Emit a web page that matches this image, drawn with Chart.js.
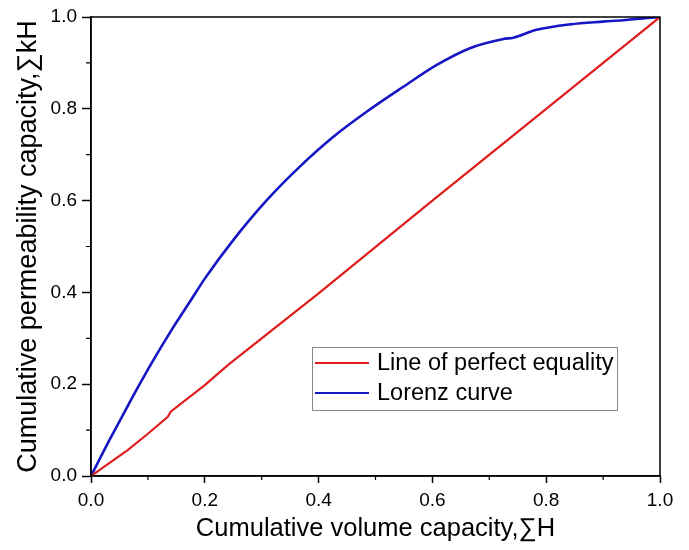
<!DOCTYPE html>
<html>
<head>
<meta charset="utf-8">
<script src="https://cdn.jsdelivr.net/npm/chart.js@4.4.0/dist/chart.umd.min.js"></script>
<style>
    body { margin: 0; background: #fff; }
    #wrap { width: 689px; height: 550px; }
</style>
</head>
<body>
<div id="wrap"><canvas id="lorenz" width="689" height="550"></canvas></div>
<script>
// Lorenz curve (blue)
const lorenzX = [0, 0.028, 0.054, 0.077, 0.107, 0.139, 0.174, 0.2, 0.25, 0.309, 0.367, 0.426, 0.485, 0.549, 0.607, 0.666, 0.725, 0.742, 0.783, 0.842, 0.9, 0.935, 0.959, 1.0];
const lorenzY = [0, 0.068, 0.128, 0.181, 0.247, 0.313, 0.38, 0.43, 0.514, 0.601, 0.674, 0.739, 0.794, 0.848, 0.895, 0.932, 0.952, 0.955, 0.972, 0.984, 0.99, 0.993, 0.996, 1.0];

// Line of perfect equality (red)
const equalX = [0, 0.065, 0.1, 0.135, 0.14, 0.2, 0.241, 0.4, 0.6, 0.8, 1.0];
const equalY = [0, 0.057, 0.092, 0.129, 0.14, 0.198, 0.242, 0.398, 0.6, 0.8, 1.0];

const majorTicks = [0, 0.2, 0.4, 0.6, 0.8, 1.0];
const minorTicks = [0.1, 0.3, 0.5, 0.7, 0.9];

const seriesNames = ['Line of perfect equality', 'Lorenz curve'];
const seriesColors = ['#e01c1c', '#1616c4'];

const FONT = 'Liberation Sans, Arial, sans-serif';

const toPoints = (xs, ys) => xs.map((x, i) => ({ x: x, y: ys[i] }));

// cadre + petites graduations + légende
const framePlugin = {
    id: 'frame',
    afterDraw(chart) {
        const ctx = chart.ctx;
        const a = chart.chartArea;
        const sx = chart.scales.x, sy = chart.scales.y;
        ctx.save();
        ctx.strokeStyle = '#000';
        ctx.lineWidth = 1.5;
        ctx.strokeRect(a.left, a.top, a.right - a.left, a.bottom - a.top);

        // minor ticks
        ctx.lineWidth = 1.2;
        ctx.beginPath();
        minorTicks.forEach(v => {
            const px = sx.getPixelForValue(v);
            ctx.moveTo(px, a.bottom);
            ctx.lineTo(px, a.bottom + 4);
            const py = sy.getPixelForValue(v);
            ctx.moveTo(a.left, py);
            ctx.lineTo(a.left - 5, py);
        });
        ctx.stroke();

        // legend box
        const lx = 312.5, ly = 347.5, lw = 305, lh = 63;
        ctx.fillStyle = '#fff';
        ctx.fillRect(lx, ly, lw, lh);
        ctx.strokeStyle = '#8a8a8a';
        ctx.lineWidth = 1;
        ctx.strokeRect(lx, ly, lw, lh);
        ctx.font = '23.5px ' + FONT;
        ctx.textBaseline = 'middle';
        ctx.textAlign = 'left';
        chart.data.datasets.forEach((ds, i) => {
            const y = 363 + i * 30;
            ctx.strokeStyle = ds.borderColor;
            ctx.lineWidth = 2.2;
            ctx.beginPath();
            ctx.moveTo(315, y);
            ctx.lineTo(369, y);
            ctx.stroke();
            ctx.fillStyle = '#000';
            ctx.fillText(ds.label, 377, y + 1);
        });
        ctx.restore();
    }
};

new Chart(document.getElementById('lorenz'), {
    type: 'scatter',
    data: {
        datasets: [
            {
                label: seriesNames[0],
                data: toPoints(equalX, equalY),
                showLine: true,
                borderColor: seriesColors[0],
                borderWidth: 2.2,
                pointRadius: 0,
                tension: 0
            },
            {
                label: seriesNames[1],
                data: toPoints(lorenzX, lorenzY),
                showLine: true,
                borderColor: seriesColors[1],
                borderWidth: 2.6,
                pointRadius: 0,
                cubicInterpolationMode: 'monotone'
            }
        ]
    },
    options: {
        responsive: false,
        animation: false,
        layout: { padding: { left: 8, top: 17, right: 29, bottom: 2 } },
        plugins: {
            legend: { display: false },
            tooltip: { enabled: false }
        },
        scales: {
            x: {
                type: 'linear',
                min: 0,
                max: 1,
                afterBuildTicks: s => { s.ticks = majorTicks.map(v => ({ value: v })); },
                afterFit: s => { s.height = 72; },
                ticks: {
                    color: '#000',
                    font: { family: FONT, size: 19 },
                    padding: 6,
                    maxRotation: 0,
                    callback: v => Number(v).toFixed(1)
                },
                grid: { display: true, drawOnChartArea: false, drawTicks: true, tickLength: 7, tickWidth: 1.5, tickColor: '#000' },
                border: { display: true, color: '#000', width: 1.5 },
                title: {
                    display: true,
                    text: 'Cumulative volume capacity,\u2211H',
                    color: '#000',
                    font: { family: FONT, size: 25.5 }
                }
            },
            y: {
                type: 'linear',
                min: 0,
                max: 1,
                afterBuildTicks: s => { s.ticks = majorTicks.map(v => ({ value: v })); },
                afterFit: s => { s.width = 83; },
                ticks: {
                    color: '#000',
                    font: { family: FONT, size: 19 },
                    padding: 5,
                    callback: v => Number(v).toFixed(1)
                },
                grid: { display: true, drawOnChartArea: false, drawTicks: true, tickLength: 9, tickWidth: 1.5, tickColor: '#000' },
                border: { display: true, color: '#000', width: 1.5 },
                title: {
                    display: true,
                    text: 'Cumulative permeability capacity,\u2211kH',
                    color: '#000',
                    font: { family: FONT, size: 27 }
                }
            }
        }
    },
    plugins: [framePlugin]
});
</script>
</body>
</html>
